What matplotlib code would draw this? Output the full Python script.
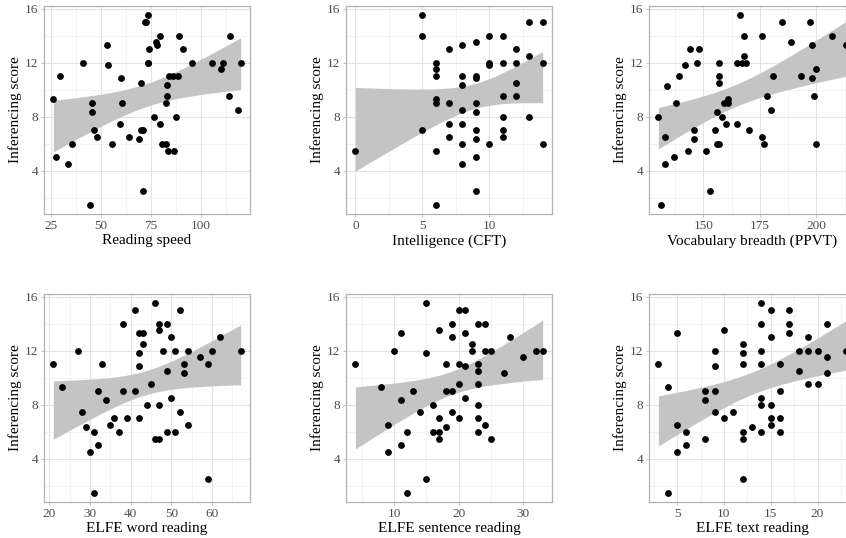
import numpy as np
import matplotlib
matplotlib.use("Agg")
import matplotlib.pyplot as plt
from matplotlib.ticker import MultipleLocator

plt.rcParams["font.family"] = ["Liberation Serif", "DejaVu Serif"]

# reading speed
speed_x = [26, 27.5, 29.5, 33.5, 35.5, 41, 44.5, 45.5, 45.5, 46.5, 48, 53, 53.5, 55.5,
           59.5, 60, 60.5, 64, 69, 70, 70, 71, 71, 72, 72.5, 73.5, 74, 73.5, 73.5, 76.5,
           77.5, 78, 79.5, 79.5, 80.5, 82.5, 82.5, 83, 83, 83.5, 84, 86, 86.5, 87.5, 88.5,
           89, 91, 95.5, 105.5, 110, 111, 114, 114.5, 118.5, 120]
speed_y = [9.33, 5, 11, 4.5, 6, 12, 1.5, 9, 8.33, 7, 6.5, 13.33, 11.85, 6,
           7.5, 10.84, 9, 6.5, 6.33, 10.5, 7, 7, 2.5, 15, 15, 15.5, 13, 12, 12,
           8, 13.5, 13.33, 14, 7.5, 6, 6, 9, 9.5, 10.33, 5.5, 11, 11, 5.5, 8, 11,
           14, 13, 12, 12, 11.5, 12, 9.5, 14, 8.5, 12]

# intelligence (CFT)
cft_x = [0, 5, 5, 5, 6, 6, 6, 6, 6, 6, 6, 7, 7, 7, 7,
         8, 8, 8, 8, 8, 8, 8, 9, 9, 9, 9, 9, 9, 9, 9, 9,
         10, 10, 10, 10, 11, 11, 11, 11, 11, 11, 12, 12, 12, 12,
         13, 13, 13, 14, 14, 14]
cft_y = [5.5, 15.5, 14, 7, 12, 11.5, 11, 9.33, 9, 5.5, 1.5, 13, 9, 7.5, 6.5,
         13.33, 11, 10.33, 8.5, 7.5, 6, 4.5, 13.5, 11, 10.84, 9, 8.33, 7, 6.33, 5, 2.5,
         14, 12, 11.85, 6, 14, 12, 9.5, 8, 7, 6.5, 13, 12, 10.5, 9.5,
         15, 12.5, 8, 15, 12, 6]

# vocabulary breadth (PPVT)
ppvt_x = [130, 131, 133, 133, 134, 137, 138, 139, 142, 143, 144, 146, 146, 147, 148,
          151, 153, 155, 156, 156, 157, 157, 157, 157, 158, 159, 160, 161, 161, 165,
          165, 166, 167, 168, 168, 169, 170, 176, 176, 177, 178, 180, 181, 185, 189,
          193, 197, 198, 198, 199, 200, 200, 207, 213]
ppvt_y = [8, 1.5, 6.5, 4.5, 10.3, 5, 9, 11, 11.85, 5.5, 13, 7, 6.33, 12, 13,
          5.5, 2.5, 7, 8.33, 6, 6, 12, 11, 10.5, 8, 9, 7.5, 9.33, 9, 7.5,
          12, 15.5, 12, 12.5, 14, 12, 7, 14, 6.5, 6, 9.5, 8.5, 11, 15, 13.5,
          11, 15, 13.33, 10.84, 9.5, 11.5, 6, 14, 13.33]

# ELFE word reading
word_x = [21, 23, 27, 28, 29, 30, 31, 31, 32, 32, 33, 34, 35, 36, 37, 38, 38, 39,
          41, 41, 42, 42, 42, 42, 43, 43, 44, 45, 46, 46, 47, 47, 47, 47, 48, 49,
          49, 49, 50, 50, 51, 51, 52, 52, 53, 53, 54, 54, 57, 59, 59, 60, 62, 67]
word_y = [11, 9.33, 12, 7.5, 6.33, 4.5, 6, 1.5, 9, 5, 11, 8.33, 6.5, 7, 6, 14, 9, 7,
          15, 9, 13.33, 11.85, 10.84, 7, 13.33, 12.5, 8, 9.5, 15.5, 5.5, 14, 13.5, 8, 5.5, 12, 14,
          10.5, 6, 13, 8.5, 12, 6, 15, 7.5, 11, 10.33, 12, 6.5, 11.5, 11, 2.5, 12, 13, 12]

# ELFE sentence reading
sent_x = [4, 8, 9, 9, 10, 11, 11, 11, 12, 12, 13, 14, 15, 15, 15, 16, 16, 17, 17, 17, 17,
          18, 18, 18, 19, 19, 19, 19, 20, 20, 20, 20, 21, 21, 21, 21, 22, 22,
          23, 23, 23, 23, 23, 23, 23, 24, 24, 24, 25, 25, 27, 28, 30, 32, 33]
sent_y = [11, 9.33, 6.5, 4.5, 12, 13.33, 8.33, 5, 6, 1.5, 9, 7.5, 15.5, 11.85, 2.5, 8, 6,
          13.5, 7, 6, 5.5, 11, 9, 6.33, 14, 13, 9, 7.5, 15, 11, 9.5, 7, 15, 13.33, 10.84, 8.5,
          12.5, 12, 14, 11, 10.5, 9.5, 8, 7, 6, 14, 12, 6.5, 12, 5.5, 10.33, 13, 11.5, 12, 12]

# ELFE text reading
text_x = [3, 4, 4, 5, 5, 5, 6, 6, 8, 8, 8, 9, 9, 9, 9, 10, 10, 11, 12, 12, 12, 12, 12, 12,
          13, 14, 14, 14, 14, 14, 14, 14, 15, 15, 15, 15, 15, 16, 16, 16, 16, 17, 17, 17,
          18, 18, 19, 19, 19, 20, 20, 21, 21, 21, 23]
text_y = [11, 9.33, 1.5, 13.33, 6.5, 4.5, 6, 5, 9, 8.33, 5.5, 12, 10.84, 9, 7.5, 13.5, 7,
          7.5, 12.5, 11.85, 11, 6, 5.5, 2.5, 6.33, 15.5, 14, 12, 11, 8.5, 8, 6, 15, 13, 8, 7,
          6.5, 11, 9, 7, 6, 15, 14, 13.33, 12, 10.5, 13, 12, 9.5, 12, 9.5, 14, 11.5, 10.33, 12]

panels = [
    (speed_x, speed_y, "Reading speed", 25, [44, 6]),
    (cft_x, cft_y, "Intelligence (CFT)", 5, [346, 6]),
    (ppvt_x, ppvt_y, "Vocabulary breadth (PPVT)", 25, [649, 6]),
    (word_x, word_y, "ELFE word reading", 10, [44, 294]),
    (sent_x, sent_y, "ELFE sentence reading", 10, [346, 294]),
    (text_x, text_y, "ELFE text reading", 5, [649, 294]),
]

W, H = 846, 538
fig = plt.figure(figsize=(W / 100, H / 100), dpi=100)

T95 = 2.007  # t quantile, df ~ 52


def lm_band(x, y, grid):
    x = np.asarray(x, float)
    y = np.asarray(y, float)
    n = len(x)
    b1, b0 = np.polyfit(x, y, 1)
    resid = y - (b0 + b1 * x)
    s = np.sqrt(np.sum(resid ** 2) / (n - 2))
    sxx = np.sum((x - x.mean()) ** 2)
    fit = b0 + b1 * grid
    se = s * np.sqrt(1 / n + (grid - x.mean()) ** 2 / sxx)
    return fit - T95 * se, fit + T95 * se


for xs, ys, label, step, (left, top) in panels:
    pw, ph = 206, 208
    ax = fig.add_axes([left / W, (H - top - ph) / H, pw / W, ph / H])
    grid = np.linspace(min(xs), max(xs), 100)
    lo, hi = lm_band(xs, ys, grid)
    ax.fill_between(grid, lo, hi, color="#c4c4c4", lw=0, zorder=2)
    ax.scatter(xs, ys, s=24, color="black", lw=0, zorder=3)
    ax.margins(x=0.05, y=0.05)

    ax.xaxis.set_major_locator(MultipleLocator(step))
    ax.xaxis.set_minor_locator(MultipleLocator(step / 2))
    ax.yaxis.set_major_locator(MultipleLocator(4))
    ax.yaxis.set_minor_locator(MultipleLocator(2))
    ax.grid(which="major", color="#e3e3e3", lw=0.8, zorder=0)
    ax.grid(which="minor", color="#efefef", lw=0.5, zorder=0)
    ax.set_axisbelow(True)
    for sp in ax.spines.values():
        sp.set_color("#b3b3b3")
        sp.set_linewidth(0.9)
    ax.tick_params(which="major", length=2.5, width=0.6, color="#b3b3b3",
                   labelsize=9.5, labelcolor="#4d4d4d", pad=1.5)
    ax.tick_params(which="minor", length=0)
    ax.set_xlabel(label, fontsize=11, labelpad=2)
    ax.set_ylabel("Inferencing score", fontsize=11, labelpad=2)

fig.savefig("out.png", dpi=100)
